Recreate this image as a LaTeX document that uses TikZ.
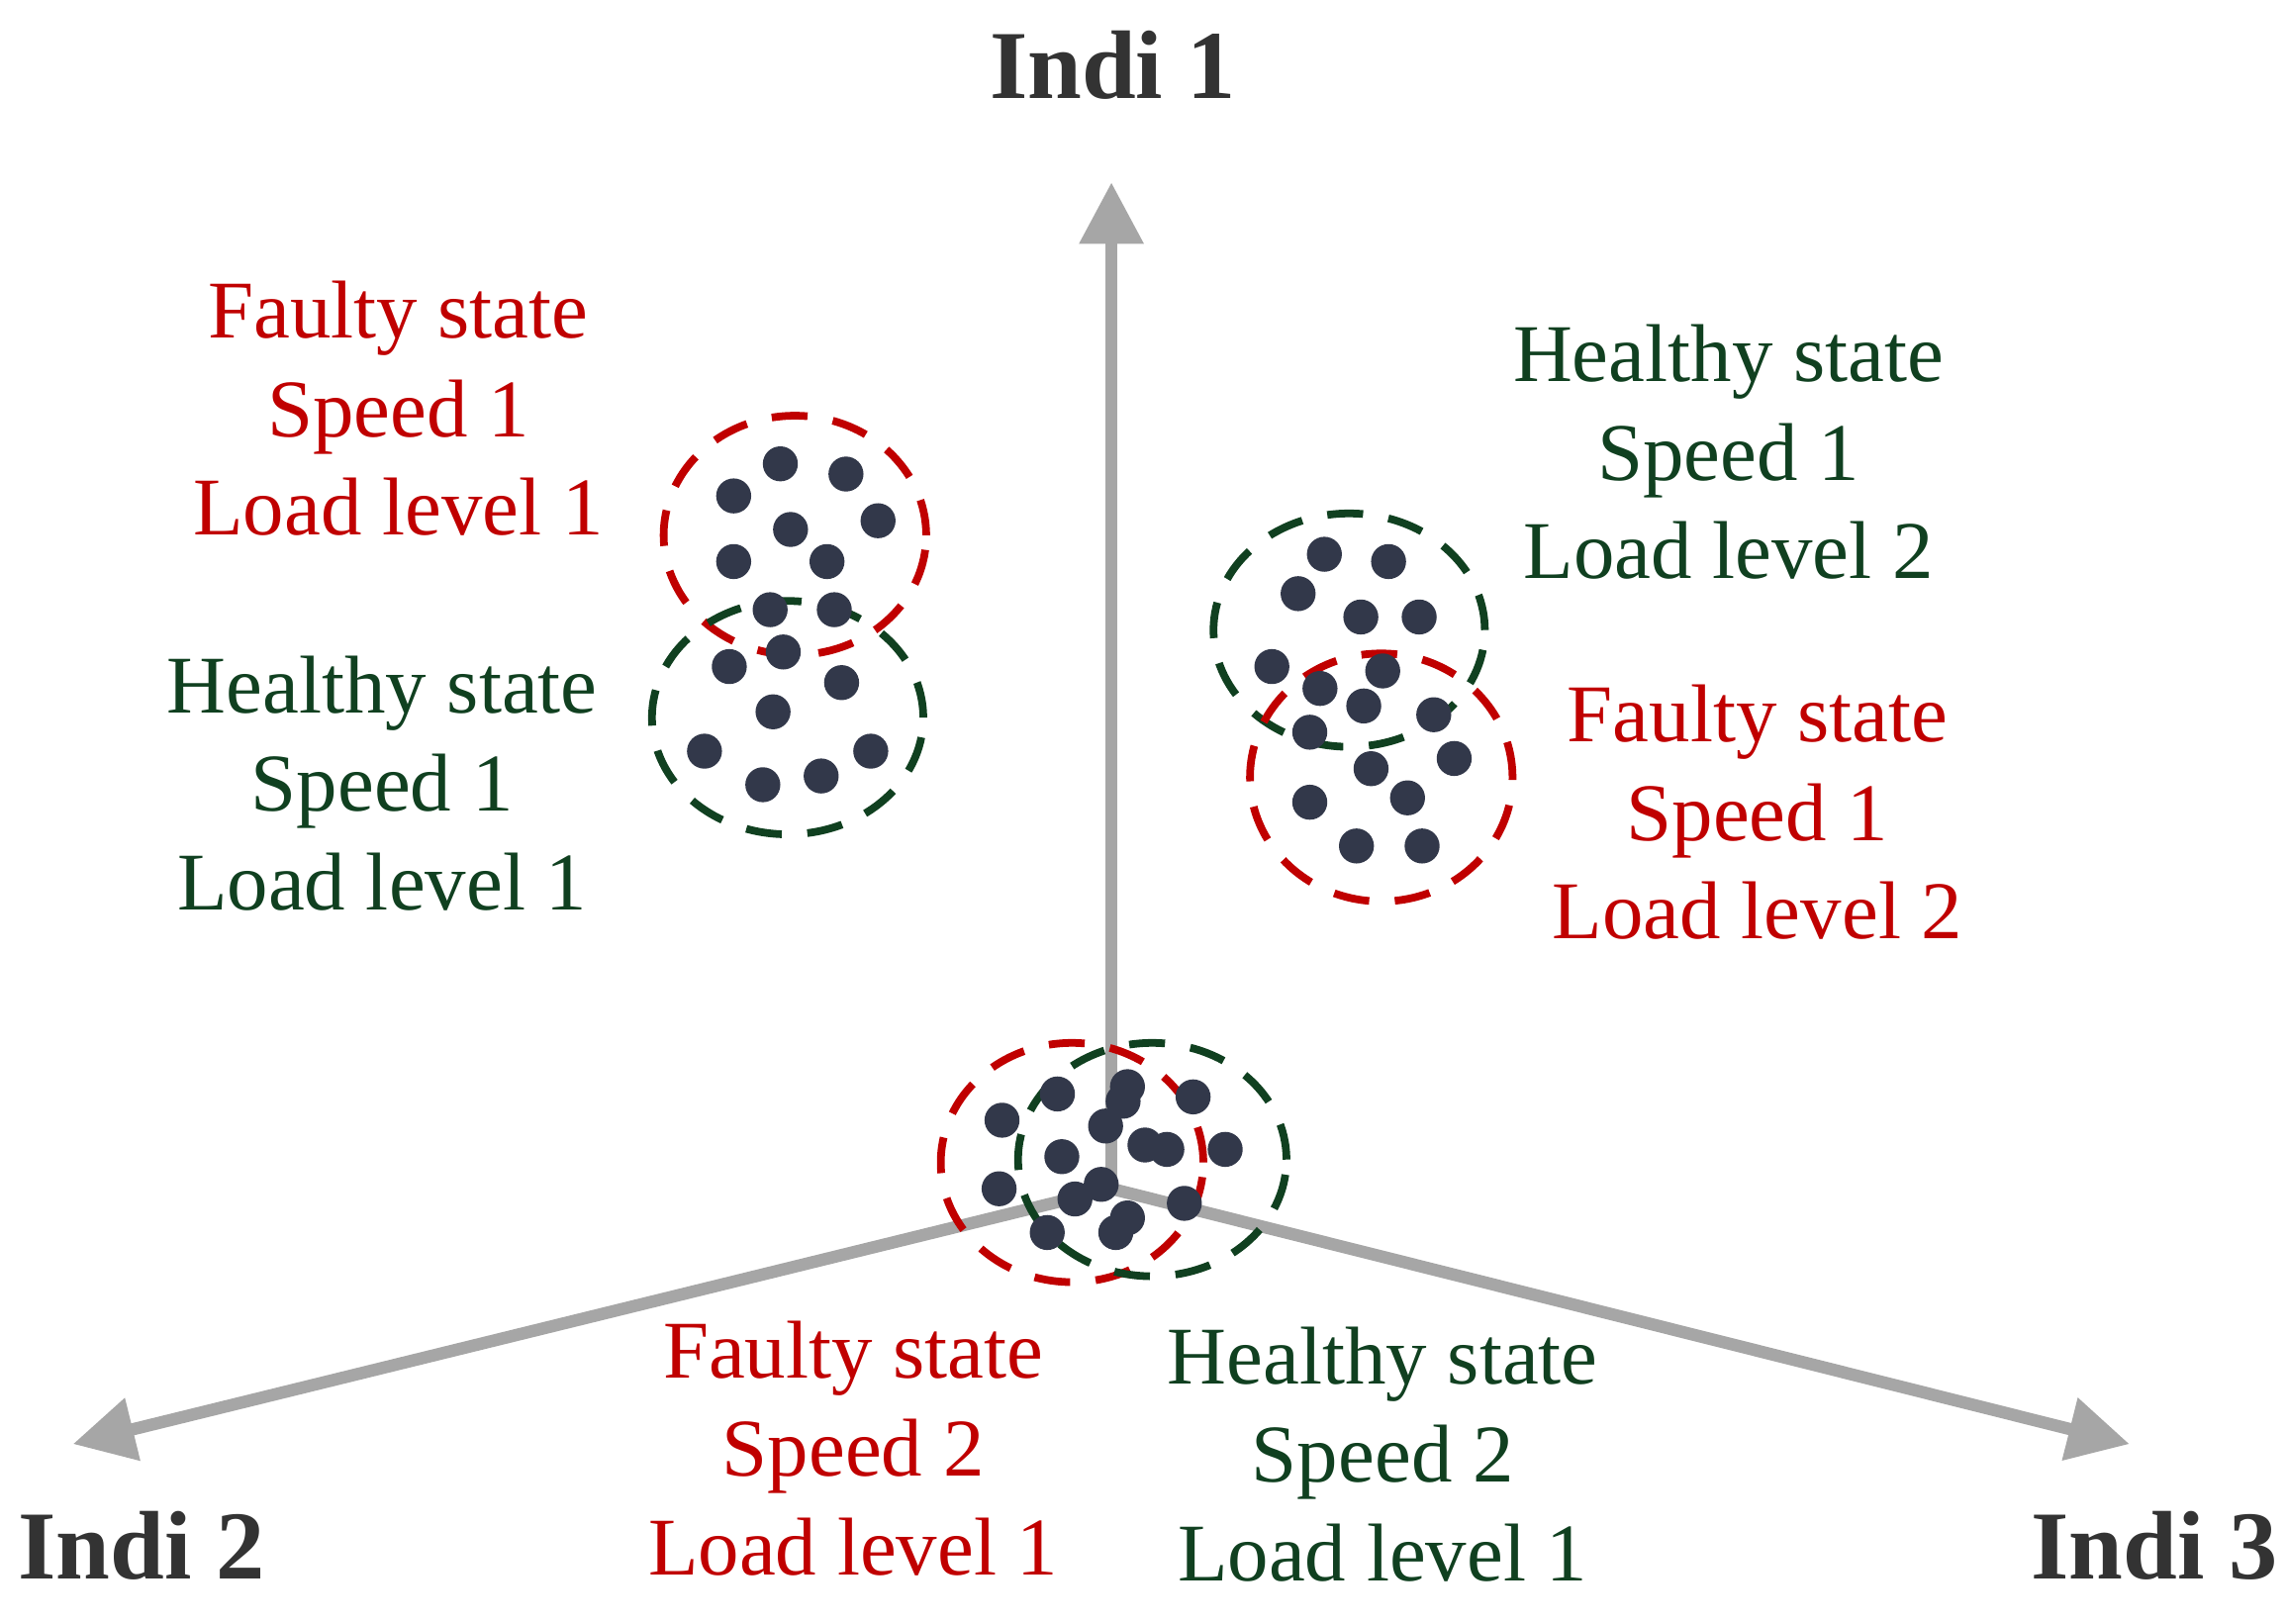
\documentclass[tikz,border=0pt]{standalone}
\usepackage{fontspec}
\setmainfont{Liberation Serif}
\usetikzlibrary{arrows.meta}
\definecolor{faultred}{RGB}{192,0,0}
\definecolor{healthgreen}{RGB}{16,64,32}
\definecolor{dotblue}{RGB}{50,56,74}
\definecolor{axisgray}{RGB}{166,166,166}
\tikzset{
  axis/.style={draw=axisgray,line width=2.4pt,-{Triangle[length=12pt,width=12pt]}},
  axlabel/.style={font=\fontsize{19pt}{22pt}\selectfont\bfseries,text=black!80},
  group/.style={align=center,font=\fontsize{16pt}{19.2pt}\selectfont},
  faulty/.style={draw=faultred,dashed,line width=1.5pt,dash pattern=on 7pt off 5pt},
  healthy/.style={draw=healthgreen,dashed,line width=1.5pt,dash pattern=on 7pt off 5pt},
}
\newcommand{\clusterdots}[1]{\foreach \px/\py in {#1} \fill[dotblue] (\px/100,11.13-\py/100) circle (0.12);}
\begin{document}
\begin{tikzpicture}
\useasboundingbox (0,0) rectangle (15.68,11.13);
% axes
\coordinate (o) at (7.62,2.98);
\coordinate (t1) at (7.62,9.88);
\coordinate (t2) at (0.5,1.23);
\coordinate (t3) at (14.6,1.23);
\draw[axis] (o) -- (t1);
\draw[axis] (o) -- (t2);
\draw[axis] (o) -- (t3);
\node[axlabel] (indi1) at (7.63,10.68) {Indi 1};
\node[axlabel] (indi2) at (0.97,0.53) {Indi 2};
\node[axlabel] (indi3) at (14.77,0.53) {Indi 3};
% clusters
\draw[faulty] (5.45,7.46) ellipse (0.9 and 0.82);
\draw[healthy] (5.40,6.21) ellipse (0.93 and 0.8);
\draw[healthy] (9.25,6.81) ellipse (0.93 and 0.8);
\draw[faulty] (9.47,5.80) ellipse (0.9 and 0.85);
\draw[faulty] (7.35,3.16) ellipse (0.9 and 0.82);
\draw[healthy] (7.90,3.18) ellipse (0.92 and 0.8);
\clusterdots{535/318,580/325,503/340,602/357,542/363,503/385,567/385,528/418,572/418}
\clusterdots{537/447,500/457,577/468,530/488,483/515,597/515,523/538,563/532}
\clusterdots{908/380,952/385,890/407,933/423,973/423,872/457,905/472,948/460,935/484}
\clusterdots{898/502,983/490,997/520,940/527,965/547,898/550,930/580,975/580}
\clusterdots{725/750,773/745,818/752,687/768,758/772,770/755,728/793,785/785,800/788,840/788,685/815,737/822,755/812,812/825,718/845,765/845,773/835}
% labels
\node[group,text=faultred] (f11) at (2.73,8.33) {Faulty state\\Speed 1\\Load level 1};
\node[group,text=healthgreen] (h11) at (2.62,5.76) {Healthy state\\Speed 1\\Load level 1};
\node[group,text=healthgreen] (h12) at (11.85,8.03) {Healthy state\\Speed 1\\Load level 2};
\node[group,text=faultred] (f12) at (12.05,5.56) {Faulty state\\Speed 1\\Load level 2};
\node[group,text=faultred] (f21) at (5.85,1.20) {Faulty state\\Speed 2\\Load level 1};
\node[group,text=healthgreen] (h21) at (9.48,1.16) {Healthy state\\Speed 2\\Load level 1};
\end{tikzpicture}
\end{document}
